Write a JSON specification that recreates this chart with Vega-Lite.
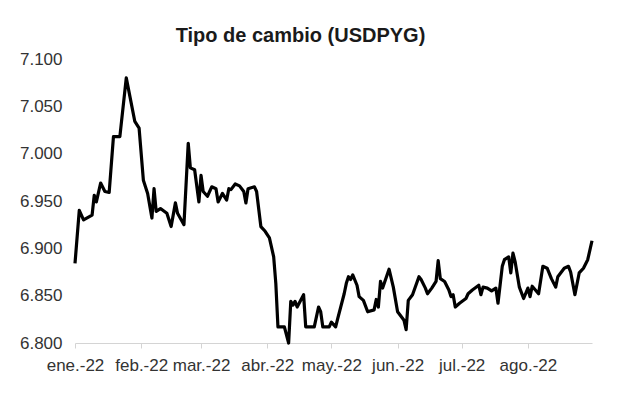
{
  "$schema": "https://vega.github.io/schema/vega-lite/v6.json",
  "width": 517,
  "height": 284,
  "autosize": {"type": "none"},
  "padding": {"left": 75, "top": 59, "right": 25, "bottom": 53},
  "background": "white",
  "title": {
    "text": "Tipo de cambio (USDPYG)",
    "font": "Liberation Sans",
    "fontSize": 20,
    "fontWeight": "bold",
    "color": "#1a1a1a",
    "anchor": "middle",
    "frame": "group",
    "dx": -33,
    "dy": 24,
    "baseline": "alphabetic",
    "offset": 12
  },
  "config": {
    "view": {"stroke": null},
    "axis": {
      "labelFont": "Liberation Sans",
      "labelFontSize": 17,
      "labelColor": "#333333",
      "grid": false,
      "title": null
    }
  },
  "data": {
    "values": [
      {"date": "2022-01-01", "v": 6.884},
      {"date": "2022-01-03", "v": 6.940},
      {"date": "2022-01-05", "v": 6.930},
      {"date": "2022-01-09", "v": 6.935},
      {"date": "2022-01-10", "v": 6.956},
      {"date": "2022-01-11", "v": 6.949},
      {"date": "2022-01-13", "v": 6.969},
      {"date": "2022-01-15", "v": 6.960},
      {"date": "2022-01-17", "v": 6.959},
      {"date": "2022-01-19", "v": 7.018},
      {"date": "2022-01-22", "v": 7.018},
      {"date": "2022-01-25", "v": 7.080},
      {"date": "2022-01-29", "v": 7.034},
      {"date": "2022-01-31", "v": 7.027},
      {"date": "2022-02-02", "v": 6.972},
      {"date": "2022-02-04", "v": 6.958},
      {"date": "2022-02-06", "v": 6.932},
      {"date": "2022-02-07", "v": 6.963},
      {"date": "2022-02-08", "v": 6.939},
      {"date": "2022-02-10", "v": 6.942},
      {"date": "2022-02-13", "v": 6.937},
      {"date": "2022-02-15", "v": 6.923},
      {"date": "2022-02-17", "v": 6.948},
      {"date": "2022-02-18", "v": 6.937},
      {"date": "2022-02-21", "v": 6.925},
      {"date": "2022-02-23", "v": 7.011},
      {"date": "2022-02-24", "v": 6.985},
      {"date": "2022-02-26", "v": 6.983},
      {"date": "2022-02-28", "v": 6.949},
      {"date": "2022-03-01", "v": 6.977},
      {"date": "2022-03-02", "v": 6.960},
      {"date": "2022-03-04", "v": 6.955},
      {"date": "2022-03-06", "v": 6.965},
      {"date": "2022-03-08", "v": 6.963},
      {"date": "2022-03-09", "v": 6.949},
      {"date": "2022-03-11", "v": 6.958},
      {"date": "2022-03-13", "v": 6.951},
      {"date": "2022-03-14", "v": 6.963},
      {"date": "2022-03-15", "v": 6.962},
      {"date": "2022-03-17", "v": 6.968},
      {"date": "2022-03-19", "v": 6.966},
      {"date": "2022-03-21", "v": 6.960},
      {"date": "2022-03-22", "v": 6.948},
      {"date": "2022-03-23", "v": 6.963},
      {"date": "2022-03-26", "v": 6.965},
      {"date": "2022-03-27", "v": 6.960},
      {"date": "2022-03-29", "v": 6.923},
      {"date": "2022-03-31", "v": 6.918},
      {"date": "2022-04-02", "v": 6.911},
      {"date": "2022-04-04", "v": 6.891},
      {"date": "2022-04-05", "v": 6.863},
      {"date": "2022-04-06", "v": 6.817},
      {"date": "2022-04-09", "v": 6.817},
      {"date": "2022-04-11", "v": 6.800},
      {"date": "2022-04-12", "v": 6.844},
      {"date": "2022-04-13", "v": 6.840},
      {"date": "2022-04-14", "v": 6.844},
      {"date": "2022-04-15", "v": 6.838},
      {"date": "2022-04-18", "v": 6.851},
      {"date": "2022-04-19", "v": 6.817},
      {"date": "2022-04-23", "v": 6.817},
      {"date": "2022-04-25", "v": 6.838},
      {"date": "2022-04-26", "v": 6.833},
      {"date": "2022-04-27", "v": 6.817},
      {"date": "2022-04-30", "v": 6.817},
      {"date": "2022-05-01", "v": 6.822},
      {"date": "2022-05-03", "v": 6.817},
      {"date": "2022-05-04", "v": 6.826},
      {"date": "2022-05-07", "v": 6.852},
      {"date": "2022-05-08", "v": 6.863},
      {"date": "2022-05-09", "v": 6.870},
      {"date": "2022-05-10", "v": 6.867},
      {"date": "2022-05-11", "v": 6.872},
      {"date": "2022-05-13", "v": 6.861},
      {"date": "2022-05-14", "v": 6.849},
      {"date": "2022-05-16", "v": 6.845},
      {"date": "2022-05-18", "v": 6.833},
      {"date": "2022-05-21", "v": 6.835},
      {"date": "2022-05-22", "v": 6.846},
      {"date": "2022-05-23", "v": 6.838},
      {"date": "2022-05-24", "v": 6.865},
      {"date": "2022-05-25", "v": 6.858},
      {"date": "2022-05-28", "v": 6.878},
      {"date": "2022-05-30", "v": 6.859},
      {"date": "2022-06-01", "v": 6.833},
      {"date": "2022-06-04", "v": 6.824},
      {"date": "2022-06-05", "v": 6.814},
      {"date": "2022-06-06", "v": 6.845},
      {"date": "2022-06-08", "v": 6.851},
      {"date": "2022-06-11", "v": 6.870},
      {"date": "2022-06-12", "v": 6.867},
      {"date": "2022-06-14", "v": 6.858},
      {"date": "2022-06-15", "v": 6.852},
      {"date": "2022-06-17", "v": 6.858},
      {"date": "2022-06-19", "v": 6.865},
      {"date": "2022-06-20", "v": 6.887},
      {"date": "2022-06-21", "v": 6.868},
      {"date": "2022-06-23", "v": 6.865},
      {"date": "2022-06-25", "v": 6.856},
      {"date": "2022-06-26", "v": 6.849},
      {"date": "2022-06-27", "v": 6.851},
      {"date": "2022-06-28", "v": 6.838},
      {"date": "2022-06-30", "v": 6.842},
      {"date": "2022-07-03", "v": 6.847},
      {"date": "2022-07-04", "v": 6.852},
      {"date": "2022-07-06", "v": 6.856},
      {"date": "2022-07-09", "v": 6.861},
      {"date": "2022-07-10", "v": 6.851},
      {"date": "2022-07-11", "v": 6.859},
      {"date": "2022-07-13", "v": 6.858},
      {"date": "2022-07-15", "v": 6.855},
      {"date": "2022-07-17", "v": 6.858},
      {"date": "2022-07-18", "v": 6.842},
      {"date": "2022-07-20", "v": 6.881},
      {"date": "2022-07-21", "v": 6.888},
      {"date": "2022-07-23", "v": 6.891},
      {"date": "2022-07-24", "v": 6.874},
      {"date": "2022-07-25", "v": 6.895},
      {"date": "2022-07-26", "v": 6.886},
      {"date": "2022-07-28", "v": 6.859},
      {"date": "2022-07-30", "v": 6.847},
      {"date": "2022-08-01", "v": 6.858},
      {"date": "2022-08-02", "v": 6.849},
      {"date": "2022-08-03", "v": 6.860},
      {"date": "2022-08-06", "v": 6.852},
      {"date": "2022-08-08", "v": 6.881},
      {"date": "2022-08-10", "v": 6.879},
      {"date": "2022-08-12", "v": 6.868},
      {"date": "2022-08-14", "v": 6.859},
      {"date": "2022-08-15", "v": 6.870},
      {"date": "2022-08-18", "v": 6.879},
      {"date": "2022-08-20", "v": 6.881},
      {"date": "2022-08-21", "v": 6.875},
      {"date": "2022-08-23", "v": 6.851},
      {"date": "2022-08-25", "v": 6.874},
      {"date": "2022-08-27", "v": 6.879},
      {"date": "2022-08-29", "v": 6.888},
      {"date": "2022-08-31", "v": 6.908}
    ]
  },
  "mark": {"type": "line", "color": "#000000", "strokeWidth": 3.2, "strokeJoin": "round", "clip": false},
  "encoding": {
    "x": {
      "field": "date",
      "type": "temporal",
      "scale": {
        "type": "utc",
        "domain": [
          {"year": 2022, "month": 1, "date": 1, "utc": true},
          {"year": 2022, "month": 8, "date": 31, "utc": true}
        ],
        "nice": false
      },
      "axis": {
        "values": [
          {"year": 2022, "month": 1, "date": 1, "utc": true},
          {"year": 2022, "month": 2, "date": 1, "utc": true},
          {"year": 2022, "month": 3, "date": 1, "utc": true},
          {"year": 2022, "month": 4, "date": 1, "utc": true},
          {"year": 2022, "month": 5, "date": 1, "utc": true},
          {"year": 2022, "month": 6, "date": 1, "utc": true},
          {"year": 2022, "month": 7, "date": 1, "utc": true},
          {"year": 2022, "month": 8, "date": 1, "utc": true}
        ],
        "labelExpr": "['ene.','feb.','mar.','abr.','may.','jun.','jul.','ago.','sep.','oct.','nov.','dic.'][utcmonth(datum.value)] + '-' + utcFormat(datum.value, '%y')",
        "domain": true,
        "domainColor": "#d4d4d4",
        "domainWidth": 1,
        "ticks": true,
        "tickColor": "#d4d4d4",
        "tickSize": 5,
        "labelPadding": 9,
        "labelAngle": 0,
        "labelOverlap": false,
        "labelFlush": false
      }
    },
    "y": {
      "field": "v",
      "type": "quantitative",
      "scale": {"domain": [6.8, 7.1], "nice": false, "zero": false},
      "axis": {
        "values": [6.8, 6.85, 6.9, 6.95, 7.0, 7.05, 7.1],
        "format": ".3f",
        "domain": false,
        "ticks": false,
        "tickSize": 0,
        "labelPadding": 13
      }
    }
  }
}
